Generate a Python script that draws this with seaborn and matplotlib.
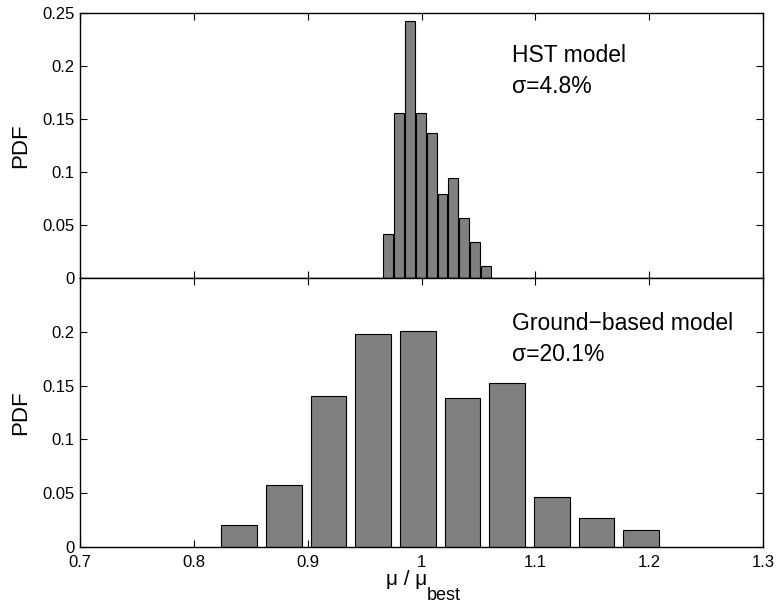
import numpy as np
import pandas as pd
import seaborn as sns
import matplotlib.pyplot as plt

# bin centres and PDF values
hst_centers = [0.9708, 0.9803, 0.9898, 0.9994, 1.0089, 1.0184, 1.0279, 1.0374, 1.0470, 1.0565]
hst_pdf = [0.0415, 0.1555, 0.2428, 0.1555, 0.1367, 0.0795, 0.0943, 0.0566, 0.0339, 0.0110]

ground_centers = [0.8397, 0.8790, 0.9182, 0.9575, 0.9968, 1.0360, 1.0753, 1.1146, 1.1538, 1.1931]
ground_pdf = [0.0206, 0.0577, 0.1408, 0.1984, 0.2006, 0.1386, 0.1520, 0.0460, 0.0274, 0.0162]

x_ticks = [0.7, 0.8, 0.9, 1.0, 1.1, 1.2, 1.3]
x_tick_labels = ['0.7', '0.8', '0.9', '1', '1.1', '1.2', '1.3']
y_ticks_top = [0, 0.05, 0.1, 0.15, 0.2, 0.25]
y_labels_top = ['0', '0.05', '0.1', '0.15', '0.2', '0.25']
y_ticks_bottom = [0, 0.05, 0.1, 0.15, 0.2]
y_labels_bottom = ['0', '0.05', '0.1', '0.15', '0.2']

sns.set_style('ticks')
plt.rcParams['font.family'] = ['Liberation Sans', 'DejaVu Sans']
plt.rcParams.update({'text.color': 'black', 'axes.labelcolor': 'black',
                     'xtick.color': 'black', 'ytick.color': 'black'})

fig = plt.figure(figsize=(7.77, 6.04), dpi=100)
ax1 = fig.add_axes([0.103, 0.5397, 0.879, 0.4388])
ax2 = fig.add_axes([0.103, 0.0944, 0.879, 0.4453])


def draw_panel(ax, centers, pdf, width, yticks, ylabels, title, sigma, text_y):
    """
    Draw one histogram panel in the MATLAB-like boxed style.
    """
    df = pd.DataFrame({'x': centers, 'pdf': pdf})
    sns.barplot(data=df, x='x', y='pdf', native_scale=True, width=width,
                color='#808080', saturation=1, edgecolor='black',
                linewidth=0.8, errorbar=None, ax=ax)
    ax.set_xlim(0.7, 1.3)
    ax.set_ylim(0, 0.25)
    ax.set_xticks(x_ticks)
    ax.set_xticklabels(x_tick_labels)
    ax.set_yticks(yticks)
    ax.set_yticklabels(ylabels)
    ax.tick_params(direction='in', top=True, right=True, length=5, width=0.8,
                   labelsize=12)
    ax.tick_params(axis='x', pad=6)
    ax.tick_params(axis='y', pad=4)
    for s in ax.spines.values():
        s.set_visible(True)
        s.set_linewidth(1.0)
        s.set_color('black')
    ax.set_xlabel('')
    ax.set_ylabel('PDF', fontsize=16)
    ax.yaxis.set_label_coords(-0.072, 0.5)
    ax.text(1.0796, text_y[0], title, fontsize=16.5, va='baseline')
    ax.text(1.0796, text_y[1], sigma, fontsize=16.5, va='baseline')


draw_panel(ax1, hst_centers, hst_pdf, 0.9, y_ticks_top, y_labels_top,
           'HST model', 'σ=4.8%', (0.204, 0.1746))
ax1.tick_params(labelbottom=False)

draw_panel(ax2, ground_centers, ground_pdf, 0.8, y_ticks_bottom, y_labels_bottom,
           'Ground\u2212based model', 'σ=20.1%', (0.2019, 0.1732))

# x label with a full-size subscript, as in the original
ax2.text(0.508, -0.141, 'μ / μ', ha='right', va='baseline', fontsize=15,
         transform=ax2.transAxes)
ax2.text(0.508, -0.196, 'best', ha='left', va='baseline', fontsize=13,
         transform=ax2.transAxes)

fig.savefig('out.png', dpi=100)
